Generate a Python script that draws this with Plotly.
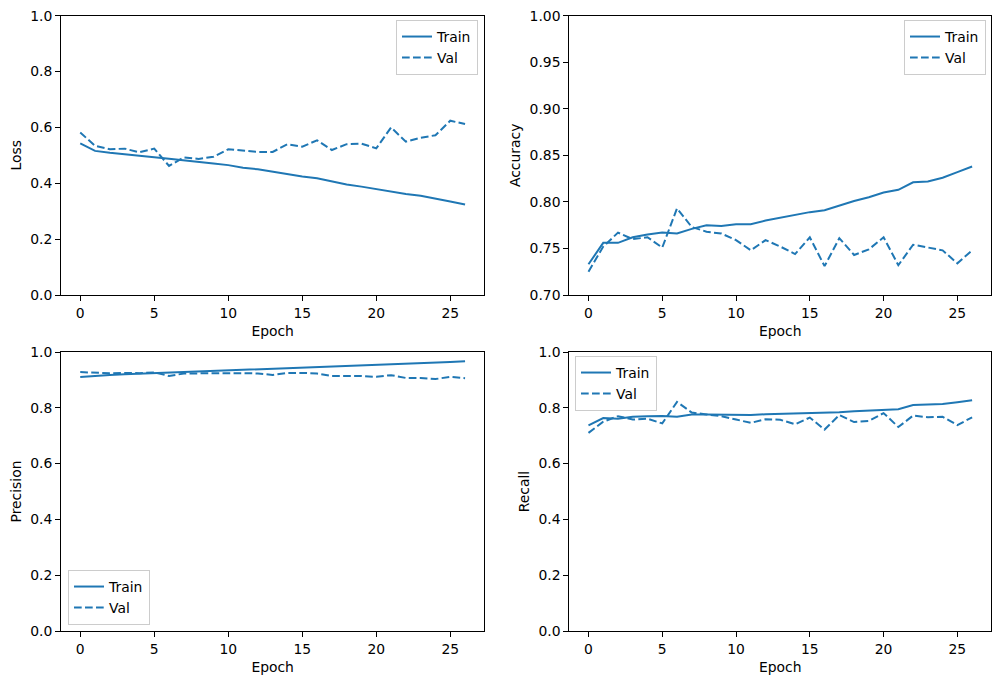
import plotly.graph_objects as go

epochs = list(range(27))

loss_train = [0.543, 0.516, 0.509, 0.503, 0.498, 0.493, 0.488, 0.483, 0.476, 0.471,
              0.465, 0.456, 0.450, 0.441, 0.431, 0.424, 0.418, 0.406, 0.396, 0.388,
              0.379, 0.371, 0.362, 0.355, 0.346, 0.335, 0.324]
loss_val = [0.582, 0.534, 0.522, 0.524, 0.511, 0.524, 0.462, 0.493, 0.487, 0.495,
            0.522, 0.517, 0.512, 0.512, 0.540, 0.531, 0.554, 0.519, 0.540, 0.542,
            0.525, 0.600, 0.549, 0.563, 0.572, 0.624, 0.612]

acc_train = [0.733, 0.756, 0.756, 0.762, 0.765, 0.767, 0.766, 0.771, 0.775, 0.774,
             0.776, 0.776, 0.780, 0.783, 0.786, 0.789, 0.791, 0.796, 0.801, 0.805,
             0.810, 0.813, 0.821, 0.822, 0.826, 0.832, 0.838]
acc_val = [0.725, 0.752, 0.767, 0.760, 0.762, 0.751, 0.793, 0.773, 0.768, 0.766,
           0.759, 0.748, 0.759, 0.752, 0.744, 0.762, 0.731, 0.761, 0.743, 0.749,
           0.762, 0.732, 0.754, 0.751, 0.748, 0.734, 0.748]

prec_train = [0.910, 0.915, 0.918, 0.920, 0.922, 0.924, 0.926, 0.928, 0.930, 0.932,
              0.933, 0.935, 0.937, 0.939, 0.941, 0.943, 0.944, 0.947, 0.949, 0.951,
              0.953, 0.955, 0.958, 0.959, 0.961, 0.964, 0.967]
prec_val = [0.928, 0.926, 0.924, 0.925, 0.924, 0.927, 0.914, 0.923, 0.924, 0.925,
            0.924, 0.924, 0.923, 0.918, 0.925, 0.925, 0.923, 0.914, 0.914, 0.914,
            0.911, 0.917, 0.907, 0.907, 0.903, 0.911, 0.906]

rec_train = [0.737, 0.763, 0.761, 0.768, 0.770, 0.771, 0.768, 0.776, 0.776, 0.775,
             0.775, 0.774, 0.777, 0.778, 0.780, 0.781, 0.783, 0.784, 0.788, 0.790,
             0.793, 0.795, 0.810, 0.811, 0.814, 0.820, 0.827]
rec_val = [0.710, 0.750, 0.770, 0.758, 0.761, 0.744, 0.821, 0.783, 0.776, 0.770,
           0.758, 0.746, 0.759, 0.757, 0.741, 0.765, 0.722, 0.774, 0.749, 0.753,
           0.781, 0.731, 0.772, 0.766, 0.768, 0.738, 0.766]

x_ticks = [0, 5, 10, 15, 20, 25]
panels = [
    ("Loss", loss_train, loss_val, [0, 1], [0, 0.2, 0.4, 0.6, 0.8, 1.0], ".1f", "legend"),
    ("Accuracy", acc_train, acc_val, [0.7, 1.0], [0.70, 0.75, 0.80, 0.85, 0.90, 0.95, 1.00], ".2f", "legend2"),
    ("Precision", prec_train, prec_val, [0, 1], [0, 0.2, 0.4, 0.6, 0.8, 1.0], ".1f", "legend3"),
    ("Recall", rec_train, rec_val, [0, 1], [0, 0.2, 0.4, 0.6, 0.8, 1.0], ".1f", "legend4"),
]

W, H = 1001, 684
xdom = [[61 / W, 484.3 / W], [569.3 / W, 991.3 / W]]
ydom = [[1 - 295 / H, 1 - 15.7 / H], [1 - 631 / H, 1 - 352 / H]]

COLOR = "#1f77b4"
FONT = "DejaVu Sans"
FS = 13.9

fig = go.Figure()
layout = {}
for k, (name, tr, va, yr, yt, fmt, leg) in enumerate(panels):
    row, col = divmod(k, 2)
    ax = "" if k == 0 else str(k + 1)
    fig.add_trace(go.Scatter(x=epochs, y=tr, mode="lines", name="Train",
                             line=dict(color=COLOR, width=2),
                             xaxis="x" + ax, yaxis="y" + ax, legend=leg))
    fig.add_trace(go.Scatter(x=epochs, y=va, mode="lines", name="Val",
                             line=dict(color=COLOR, width=2, dash="7.7px,3.3px"),
                             xaxis="x" + ax, yaxis="y" + ax, legend=leg))
    common = dict(showline=True, linecolor="black", linewidth=1, mirror=True,
                  ticks="outside", ticklen=5, tickwidth=1, tickcolor="black",
                  showgrid=False, zeroline=False, automargin=False,
                  tickfont=dict(family=FONT, size=FS, color="black"))
    layout["xaxis" + ax] = dict(common, domain=xdom[col], range=[-1.3, 27.3],
                                tickvals=x_ticks, anchor="y" + ax,
                                title=dict(text="Epoch", standoff=6,
                                           font=dict(family=FONT, size=FS, color="black")))
    layout["yaxis" + ax] = dict(common, domain=ydom[row], range=yr,
                                tickvals=yt, tickformat=fmt, anchor="x" + ax,
                                title=dict(text=name, standoff=5,
                                           font=dict(family=FONT, size=FS, color="black")))

leg_common = dict(bgcolor="rgba(255,255,255,0.8)", bordercolor="#cccccc", borderwidth=1,
                  font=dict(family=FONT, size=FS, color="black"), tracegroupgap=0,
                  itemwidth=30)
layout["legend"] = dict(leg_common, x=478 / W, y=1 - 20 / H, xanchor="right", yanchor="top")
layout["legend2"] = dict(leg_common, x=986 / W, y=1 - 20 / H, xanchor="right", yanchor="top")
layout["legend3"] = dict(leg_common, x=68 / W, y=1 - 625 / H, xanchor="left", yanchor="bottom")
layout["legend4"] = dict(leg_common, x=575 / W, y=1 - 356 / H, xanchor="left", yanchor="top")

fig.update_layout(**layout)
fig.update_layout(width=W, height=H, margin=dict(l=0, r=0, t=0, b=0, autoexpand=False),
                  paper_bgcolor="white", plot_bgcolor="white",
                  font=dict(family=FONT, size=FS, color="black"),
                  showlegend=True)

fig.write_html("out.html")
